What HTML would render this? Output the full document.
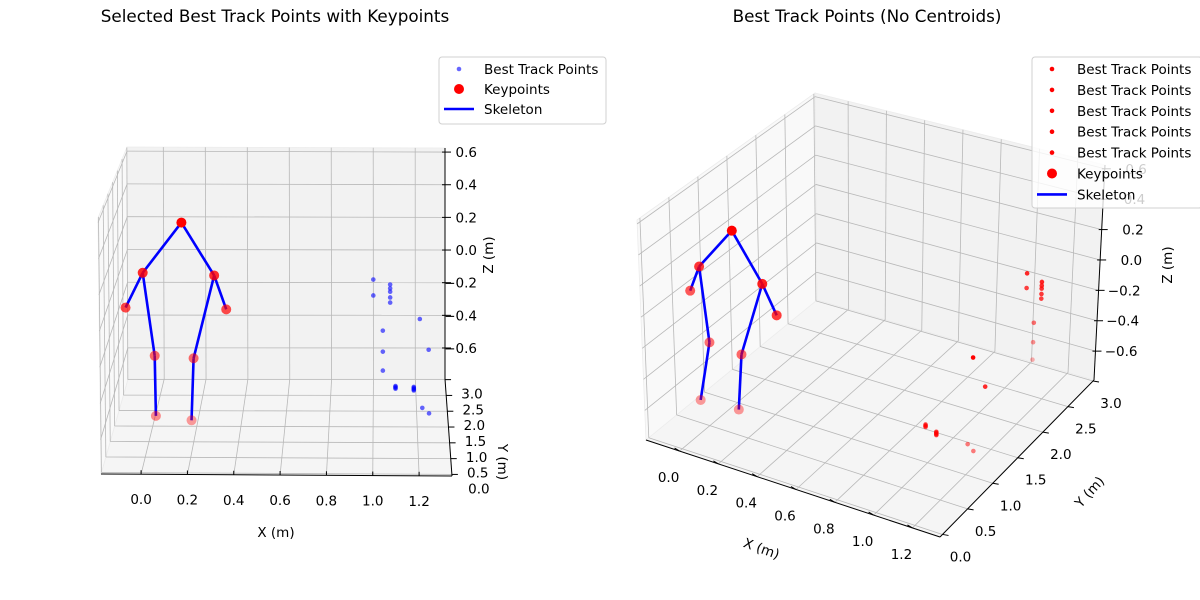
<!DOCTYPE html>
<html><head><meta charset="utf-8"><style>
html,body{margin:0;padding:0;background:#fff;}
svg{display:block;font-family:"DejaVu Sans","Liberation Sans",sans-serif;}
</style></head><body>
<svg id="fig" width="1200" height="600" viewBox="0 0 1200 600">
<text x="275" y="22" text-anchor="middle" font-size="16.8">Selected Best Track Points with Keypoints</text>
<text x="867" y="22" text-anchor="middle" font-size="16.8">Best Track Points (No Centroids)</text>
<g id="left"></g>
<g id="right"></g>
</svg>
<script>
// ---- data ----
const kpX = [0.17, 0.00, 0.31, -0.08, 0.36, 0.05, 0.22, 0.06, 0.21];
const kpY = [0.41, 0.40, 0.44, 0.50, 0.51, 0.37, 0.35, 0.15, 0.31];
const kpZ = [0.54, 0.26, 0.24, 0.05, 0.04, -0.20, -0.21, -0.50, -0.55];
const bones = [[0,1],[0,2],[1,3],[2,4],[1,5],[2,6],[5,7],[6,8]];
const tX = [1.00,1.00,1.08,1.08,1.08,1.08,1.08,1.045,1.045,1.045,1.21,1.25,1.10,1.10,1.10,1.10,1.18,1.18,1.18,1.18,1.18,1.22,1.25];
const tY = [2.87,2.87,2.87,2.87,2.87,2.87,2.87,2.87,2.87,2.87,1.09,1.18,0.59,0.59,0.59,0.59,0.50,0.50,0.50,0.50,0.50,0.96,0.96];
const tZ = [-0.156,-0.253,-0.186,-0.21,-0.23,-0.265,-0.296,-0.467,-0.595,-0.71,-0.10,-0.29,-0.40,-0.405,-0.41,-0.415,-0.39,-0.395,-0.40,-0.405,-0.41,-0.585,-0.616];
const xTicks = [0.0,0.2,0.4,0.6,0.8,1.0,1.2];
const yTicks = [0.0,0.5,1.0,1.5,2.0,2.5,3.0];
const zTicks = [-0.6,-0.4,-0.2,0.0,0.2,0.4,0.6];
const xLim = [-0.173, 1.342], yLim = [-0.05, 3.02], zLim = [-0.79, 0.625];

const NS = "http://www.w3.org/2000/svg";
function el(parent, tag, attrs){ const e=document.createElementNS(NS,tag); for(const k in attrs) e.setAttribute(k,attrs[k]); parent.appendChild(e); return e; }
function mkProj(C){
  return function(x,y,z){
    const u=(x-xLim[0])/(xLim[1]-xLim[0]), v=(y-yLim[0])/(yLim[1]-yLim[0]), w=(z-zLim[0])/(zLim[1]-zLim[0]);
    const L=(a,b,t)=>[a[0]+(b[0]-a[0])*t,a[1]+(b[1]-a[1])*t];
    const a=L(L(C.p000,C.p100,u),L(C.p010,C.p110,u),v);
    const b=L(L(C.p001,C.p101,u),L(C.p011,C.p111,u),v);
    return L(a,b,w);
  };
}
const fmt = v => (v<0?"\u2212":"")+Math.abs(v).toFixed(1);

function drawPanel(g, C, opt){
  const P = mkProj(C);
  const poly = (pts)=>pts.map(p=>p.join(",")).join(" ");
  const [x0,x1]=xLim,[y0,y1]=yLim,[z0,z1]=zLim;
  let e;
  e=el(g,"polygon",{points:poly([P(x0,y0,z0),P(x1,y0,z0),P(x1,y1,z0),P(x0,y1,z0)]),fill:"#f5f5f5",stroke:"#ececec","stroke-width":"0.8"});
   
  e=el(g,"polygon",{points:poly([P(x0,y0,z0),P(x0,y1,z0),P(x0,y1,z1),P(x0,y0,z1)]),fill:"#f9f9f9",stroke:"#ececec","stroke-width":"0.8"});
   
  e=el(g,"polygon",{points:poly([P(x0,y1,z0),P(x1,y1,z0),P(x1,y1,z1),P(x0,y1,z1)]),fill:"#f2f2f2",stroke:"#ececec","stroke-width":"0.8"});
   
  const gl=(a,b)=>{const l=el(g,"line",{x1:a[0],y1:a[1],x2:b[0],y2:b[1],stroke:"#b8b8b8","stroke-width":"0.8"});
     };
  xTicks.forEach(x=>{gl(P(x,y0,z0),P(x,y1,z0)); gl(P(x,y1,z0),P(x,y1,z1));});
  yTicks.forEach(y=>{gl(P(x0,y,z0),P(x1,y,z0)); gl(P(x0,y,z0),P(x0,y,z1));});
  zTicks.forEach(z=>{gl(P(x0,y1,z),P(x1,y1,z)); gl(P(x0,y0,z),P(x0,y1,z));});
  const ax=(a,b,n)=>{const l=el(g,"line",{x1:a[0],y1:a[1],x2:b[0],y2:b[1],stroke:"#000","stroke-width":"1"});
     };
  ax(P(x0,y0,z0),P(x1,y0,z0),'x-axis-line');
  ax(P(x1,y0,z0),P(x1,y1,z0),'y-axis-line');
  ax(P(x1,y1,z0),P(x1,y1,z1),'z-axis-line');
  const txt=(x,y,s,anchor,n,extra)=>{const t=el(g,"text",Object.assign({x:x,y:y,"font-size":"13.5","text-anchor":anchor},extra||{}));t.textContent=s;
      return t;};
  xTicks.forEach(x=>{const p=P(x,y0,z0); const d=opt.xTickDir;
    const l=el(g,"line",{x1:p[0],y1:p[1],x2:p[0]+d[0],y2:p[1]+d[1],stroke:"#000","stroke-width":"1"});
     
    txt(p[0]+opt.xLab[0],p[1]+opt.xLab[1],fmt(x),"middle",'x-tick-label');});
  yTicks.forEach(y=>{const p=P(x1,y,z0); const d=opt.yTickDir;
    const l=el(g,"line",{x1:p[0],y1:p[1],x2:p[0]+d[0],y2:p[1]+d[1],stroke:"#000","stroke-width":"1"});
     
    txt(p[0]+opt.yLab[0],p[1]+opt.yLab[1],fmt(y),"middle",'y-tick-label');});
  zTicks.forEach(z=>{const p=P(x1,y1,z);
    const l=el(g,"line",{x1:p[0]-3,y1:p[1],x2:p[0]+6,y2:p[1],stroke:"#000","stroke-width":"1"});
     
    txt(p[0]+opt.zLabEnd,p[1]+5,fmt(z),"end",'z-tick-label');});
  txt(opt.xTitle[0],opt.xTitle[1],"X (m)","middle",'x-axis-title',{transform:`rotate(${opt.xTitle[2]} ${opt.xTitle[0]} ${opt.xTitle[1]})`});
  txt(opt.yTitle[0],opt.yTitle[1],"Y (m)","middle",'y-axis-title',{transform:`rotate(${opt.yTitle[2]} ${opt.yTitle[0]} ${opt.yTitle[1]})`});
  txt(opt.zTitle[0],opt.zTitle[1],"Z (m)","middle",'z-axis-title',{transform:`rotate(-90 ${opt.zTitle[0]} ${opt.zTitle[1]})`});
  const td=tX.map((x,i)=>opt.depth(x,tY[i],tZ[i]));
  const tmin=Math.min(...td), tmax=Math.max(...td);
  tX.forEach((x,i)=>{const p=P(x,tY[i],tZ[i]);
    const a = opt.trackShade ? 1-0.7*(td[i]-tmin)/(tmax-tmin||1) : 0.6;
    const c=el(g,"circle",{cx:p[0],cy:p[1],r:"2.3",fill:opt.trackColor,"fill-opacity":a.toFixed(2)});
     });
  bones.forEach(b=>{const a=P(kpX[b[0]],kpY[b[0]],kpZ[b[0]]), c=P(kpX[b[1]],kpY[b[1]],kpZ[b[1]]);
    const l=el(g,"line",{x1:a[0],y1:a[1],x2:c[0],y2:c[1],stroke:"#0000ff","stroke-width":"2.6"});
     });
  const kd=kpX.map((x,i)=>opt.depth(x,kpY[i],kpZ[i]));
  const kmin=Math.min(...kd), kmax=Math.max(...kd);
  kpX.forEach((x,i)=>{const p=P(x,kpY[i],kpZ[i]);
    const a=1-0.62*(kd[i]-kmin)/(kmax-kmin||1);
    const c=el(g,"circle",{cx:p[0],cy:p[1],r:"5",fill:"#ff0000","fill-opacity":a.toFixed(2)});
     });
  const L=opt.legend;
  const lg=el(g,"g",{});
   
  el(lg,"rect",{x:L.x,y:L.y,width:L.w,height:L.h,rx:"3",fill:"#fff","fill-opacity":"0.8",stroke:"#d0d0d0","stroke-width":"1"});
  L.items.forEach((it,i)=>{const y=L.y+12+i*L.dy;
    if(it[0]==="dot"){const c=el(lg,"circle",{cx:L.x+20,cy:y,r:"2.3",fill:opt.trackColor,"fill-opacity":opt.trackShade?1:0.6});
       }
    else if(it[0]==="big"){const c=el(lg,"circle",{cx:L.x+20,cy:y,r:"5",fill:"#ff0000"});
       }
    else {const l=el(lg,"line",{x1:L.x+5,y1:y,x2:L.x+35,y2:y,stroke:"#0000ff","stroke-width":"2.6"});
       }
    const t=el(lg,"text",{x:L.x+45,y:y+5,"font-size":"13.5"}); t.textContent=it[1];
     
  });
}

drawPanel(document.getElementById("left"),{
  p000:[101,474],p100:[452,476],p010:[128,379],p110:[445,379],
  p001:[98,218],p101:[452,218],p011:[127,147],p111:[445,148]},
  {xTickDir:[0,-4],xLab:[0,30],yTickDir:[6,0],yLab:[27,19],zLabEnd:32,
   xTitle:[276,537,0],yTitle:[498,462,90],zTitle:[493,255],
   depth:(x,y,z)=>-z+0.2*y,trackColor:"#0000ff",trackShade:false,
   legend:{x:439,y:57,w:167,h:67,dy:20,items:[["dot","Best Track Points"],["big","Keypoints"],["line","Skeleton"]]}});

drawPanel(document.getElementById("right"),{
  p000:[646,440],p100:[940,537],p010:[817,300],p110:[1094,380],
  p001:[637,220],p101:[938,292],p011:[815,93],p111:[1105,165]},
  {xTickDir:[-5,-3],xLab:[-11,31],yTickDir:[6,1],yLab:[18,27],zLabEnd:42,
   xTitle:[760,553,20],yTitle:[1093,495,-48],zTitle:[1172,265],
   depth:(x,y,z)=>-z-0.5*x,trackColor:"#ff0000",trackShade:true,
   legend:{x:1032,y:57,w:170,h:151,dy:20.9,items:[["dot","Best Track Points"],["dot","Best Track Points"],["dot","Best Track Points"],["dot","Best Track Points"],["dot","Best Track Points"],["big","Keypoints"],["line","Skeleton"]]}});
</script>
</body></html>
